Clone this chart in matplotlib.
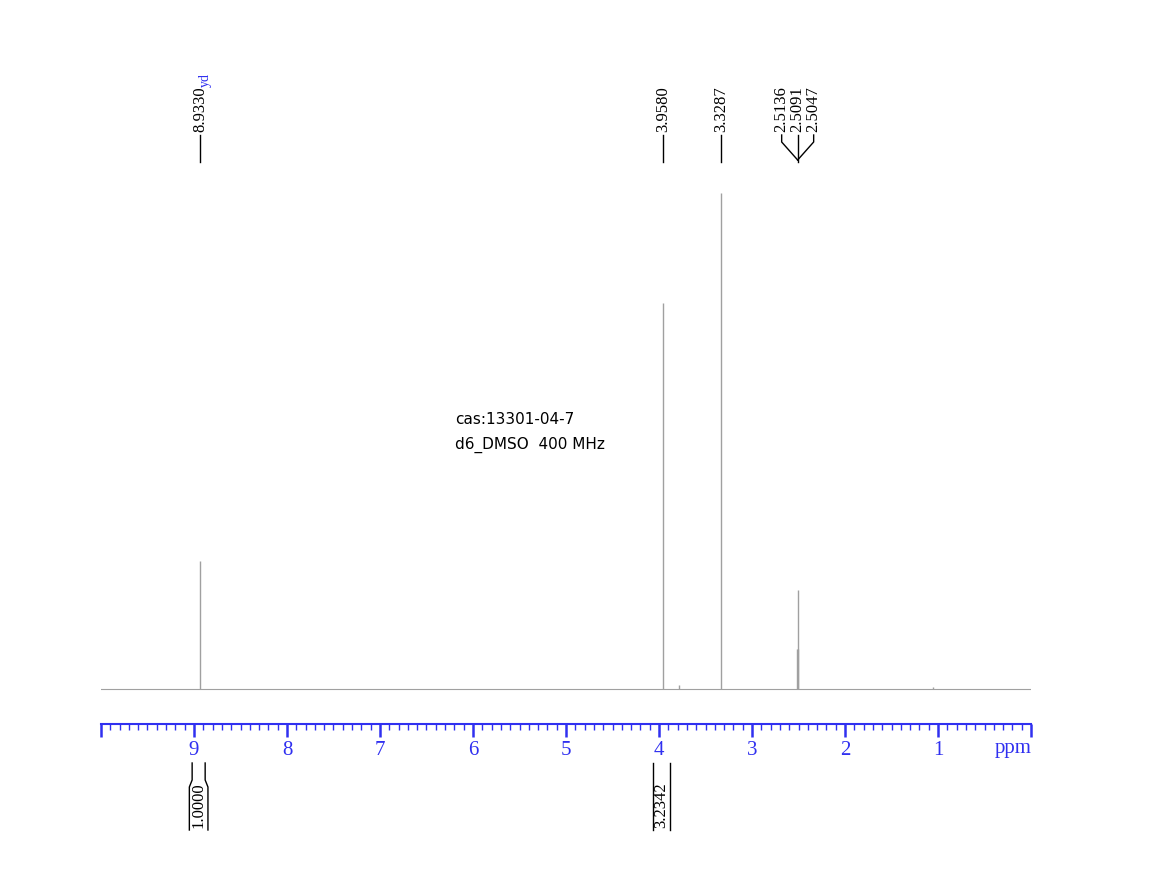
import matplotlib.pyplot as plt
from matplotlib.ticker import MultipleLocator, FixedLocator, FixedFormatter

# peak table (ppm, height above baseline)
peak_ppm = [8.933, 3.958, 3.7825, 3.3287, 2.5136, 2.5091, 2.5047, 1.05]
peak_height = [128, 386, 4, 496, 40, 99, 40, 2]

# labelled peaks at top
label_ppm = [8.9330, 3.9580, 3.3287]
label_txt = ['8.9330', '3.9580', '3.3287']
multi_ppm = [2.5136, 2.5091, 2.5047]
multi_txt = ['2.5136', '2.5091', '2.5047']
multi_label_x = [2.681, 2.509, 2.337]

# integrals: (start ppm, end ppm, value)
integ_from = [9.02, 4.065]
integ_to = [8.88, 3.885]
integ_val = ['1.0000', '3.2342']
integ_flare = [0.03, 0.0]

blue = '#3030f0'
serif = 'Liberation Serif'

fig = plt.figure(figsize=(11.49, 8.82), dpi=100)
H = 882
ax = fig.add_axes([101 / 1149, 1 - 724 / H, 930 / 1149, 644 / H])
ax.set_xlim(10, 0)
ax.set_ylim(-35, 609)   # y units ~ pixels, baseline at 0

# spectrum
ax.axhline(0, color='#a0a0a0', lw=0.8)
ax.vlines(peak_ppm, 0, peak_height, color='#a0a0a0', lw=1.0)

# axis styling
for s in ['top', 'left', 'right']:
    ax.spines[s].set_visible(False)
ax.spines['bottom'].set_color(blue)
ax.spines['bottom'].set_linewidth(1.5)
ax.set_yticks([])
ax.xaxis.set_major_locator(FixedLocator(list(range(0, 11))))
ax.xaxis.set_major_formatter(FixedFormatter(
    [''] + [str(v) for v in range(1, 10)] + ['']))
ax.xaxis.set_minor_locator(MultipleLocator(0.1))
ax.tick_params(axis='x', which='major', direction='out', length=9, width=1.8,
               color=blue, labelcolor=blue, labelsize=15, pad=3)
ax.tick_params(axis='x', which='minor', direction='out', length=4, width=1,
               color=blue)
for lab in ax.get_xticklabels():
    lab.set_fontfamily(serif)
ax.text(-0.01, -59, 'ppm', color=blue, fontsize=15, family=serif,
        ha='right', va='center', clip_on=False)

# single peak labels
for p, t in zip(label_ppm, label_txt):
    ax.text(p, 689 - 132, t, rotation=90, ha='center', va='bottom',
            fontsize=12, family=serif, clip_on=False)
    ax.plot([p, p], [689 - 135, 689 - 162], color='k', lw=1, clip_on=False)

# multiplet labels with fan
centre = multi_ppm[1]
for x, t in zip(multi_label_x, multi_txt):
    ax.text(x, 689 - 132, t, rotation=90, ha='center', va='bottom',
            fontsize=12, family=serif, clip_on=False)
for i, x in enumerate(multi_label_x):
    if i == 1:
        ax.plot([x, x], [689 - 135, 689 - 162], color='k', lw=1, clip_on=False)
    else:
        ax.plot([x, x, centre], [689 - 135, 689 - 142, 689 - 160],
                color='k', lw=1, clip_on=False)

# odd blue mark over first label
ax.text(8.88, 689 - 87, 'yd', rotation=90, ha='center', va='bottom',
        color=blue, fontsize=10, family=serif, clip_on=False)

# integrals
for a, b, f, v in zip(integ_from, integ_to, integ_flare, integ_val):
    ax.plot([a, a, a + f, a + f], [-74, -91, -98, -141],
            color='k', lw=1, clip_on=False)
    ax.plot([b, b, b - f, b - f], [-74, -91, -98, -141],
            color='k', lw=1, clip_on=False)
    ax.text((a + b) / 2, -139, v, rotation=90, ha='center', va='bottom',
            fontsize=12, family=serif, clip_on=False)

# sample info
fig.text(455 / 1149, 1 - 419 / H, 'cas:13301-04-7', fontsize=11,
         va='center', ha='left')
fig.text(455 / 1149, 1 - 445 / H, 'd6_DMSO  400 MHz', fontsize=11,
         va='center', ha='left')

fig.savefig('out.png', dpi=100)
